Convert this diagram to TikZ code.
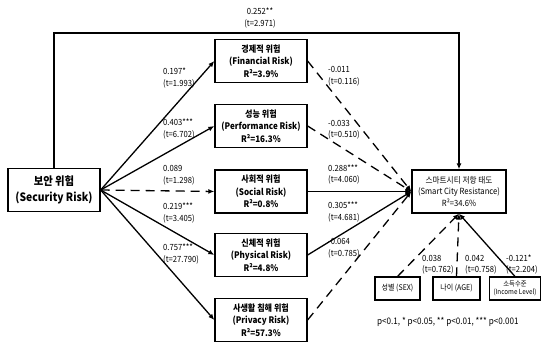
\documentclass[tikz,border=0pt]{standalone}
\usepackage{fontspec}
\setmainfont{Noto Sans CJK KR}[FakeStretch=0.9]
\usetikzlibrary{arrows.meta}
\begin{document}
\begin{tikzpicture}[x=1pt,y=-1pt,
  box/.style={draw, line width=1.3pt, align=center, inner sep=0pt, minimum width=92pt, minimum height=43pt, font=\bfseries\fontsize{9}{12.5}\selectfont},
  ctrl/.style={draw, line width=1.1pt, align=center, inner sep=0pt, minimum height=23pt, font=\fontsize{7.8}{8.5}\selectfont},
  coef/.style={align=left, anchor=west, inner sep=0pt, font=\fontsize{8.5}{11.5}\selectfont},
  arr/.style={line width=1.3pt, -{Latex[length=6pt,width=5pt]}},
  dsh/.style={arr, dash pattern=on 9pt off 6pt}]
\useasboundingbox (0,0) rectangle (542,342);
% independent and dependent variables
\node[box, font=\bfseries\fontsize{11.5}{16}\selectfont] (sec) at (54,190) {보안 위험\\(Security Risk)};
\node[box, minimum width=94pt, font=\fontsize{8.5}{11.5}\selectfont] (res) at (459,191.5) {스마트시티 저항 태도\\(Smart City Resistance)\\R²=34.6\%};
% mediators
\node[box] (fin) at (261,61) {경제적 위험\\(Financial Risk)\\R²=3.9\%};
\node[box] (perf) at (261,126) {성능 위험\\(Performance Risk)\\R²=16.3\%};
\node[box] (soc) at (261,191.5) {사회적 위험\\(Social Risk)\\R²=0.8\%};
\node[box] (phys) at (261,255) {신체적 위험\\(Physical Risk)\\R²=4.8\%};
\node[box] (priv) at (261,320) {사생활 침해 위험\\(Privacy Risk)\\R²=57.3\%};
% control variables
\node[ctrl, minimum width=45pt] (sex) at (397.5,288.5) {성별 (SEX)};
\node[ctrl, minimum width=47pt] (age) at (456.5,288.5) {나이 (AGE)};
\node[ctrl, minimum width=51pt, font=\fontsize{7}{8.5}\selectfont] (inc) at (515,288.5) {소득수준\\(Income Level)};
% direct path
\coordinate (top) at (0,33);
\draw[arr] (sec.north) -- (sec.north |- top) -| (res.north);
\node[coef, anchor=center, align=center] (cdir) at (260,18) {0.252**\\(t=2.971)};
% paths to mediators
\draw[arr](sec.east) -- (fin.west);
\draw[arr](sec.east) -- (perf.west);
\draw[dsh](sec.east) -- (soc.west);
\draw[arr](sec.east) -- (phys.west);
\draw[arr](sec.east) -- (priv.west);
\node[coef] (cfin) at (163,78) {0.197*\\(t=1.993)};
\node[coef] (cperf) at (163,129) {0.403***\\(t=6.702)};
\node[coef] (csoc) at (163,175) {0.089\\(t=1.298)};
\node[coef] (cphys) at (163,213) {0.219***\\(t=3.405)};
\node[coef] (cpriv) at (163,254) {0.757***\\(t=27.790)};
% paths to resistance
\draw[dsh](fin.east) -- (res.west);
\draw[dsh](perf.east) -- (res.west);
\draw[arr](soc.east) -- (res.west);
\draw[arr](phys.east) -- (res.west);
\draw[dsh](priv.east) -- (res.west);
\node[coef] (rfin) at (328,76) {-0.011\\(t=0.116)};
\node[coef] (rperf) at (328,129.5) {-0.033\\(t=0.510)};
\node[coef] (rsoc) at (328,174.5) {0.288***\\(t=4.060)};
\node[coef] (rphys) at (328,212) {0.305***\\(t=4.681)};
\node[coef] (rpriv) at (328,248) {-0.064\\(t=0.785)};
% paths from controls
\draw[dsh](sex.north) -- (res.south);
\draw[dsh](age.north) -- (res.south);
\draw[arr](inc.north) -- (res.south);
\node[coef] (csex) at (422,264.5) {0.038\\(t=0.762)};
\node[coef] (cage) at (465,264.5) {0.042\\(t=0.758)};
\node[coef] (cinc) at (506,264.5) {-0.121*\\(t=2.204)};
\node[coef, font=\fontsize{9}{10}\selectfont] (note) at (377,322) {p<0.1, * p<0.05, ** p<0.01, *** p<0.001};
\end{tikzpicture}
\end{document}
